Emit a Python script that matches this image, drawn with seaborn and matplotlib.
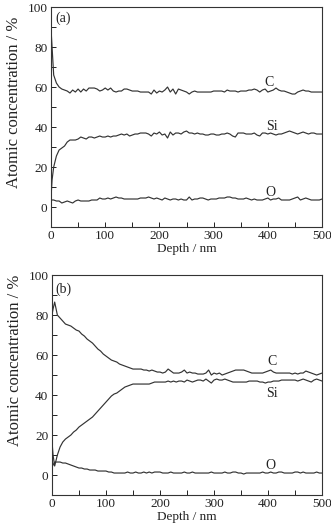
import numpy as np
import pandas as pd
import matplotlib
matplotlib.use("Agg")
import matplotlib.pyplot as plt
from matplotlib.ticker import MultipleLocator
import seaborn as sns

# Depth grid (nm)
depth = np.concatenate([[0, 2], np.arange(5, 501, 5)])

# Panel (a)
c_a = [89.5, 80,
       66, 62, 60, 59, 58.5, 58, 57, 58.5, 57.5, 59,
       57.5, 59, 58, 59.5, 59.5, 59.5, 59, 58, 58.5, 59.5,
       58.5, 59.5, 58, 57.5, 58, 58, 59, 59, 58.5, 58,
       58, 58, 57.5, 57.5, 57.5, 57.5, 56.5, 58.5, 57, 58,
       57.5, 58.5, 60, 57.5, 59, 56.5, 59, 58.5, 58, 57.5,
       56.5, 57.5, 58, 57.5, 57.5, 57.5, 57.5, 57.5, 57.5, 58,
       58, 58, 58, 57.5, 58.5, 58, 58, 58, 57.5, 58,
       58, 58, 58.5, 58.5, 59, 58.5, 57.5, 58.5, 59, 57.5,
       58, 58.5, 59.5, 58.5, 58, 58, 57.5, 57, 56.5, 56.5,
       57.5, 58, 58.5, 58, 58, 57.5, 57.5, 57.5, 57.5, 57.5]
si_a = [4.3, 13.5,
        20, 25.5, 28.5, 29.5, 30.5, 32.5, 33.5, 33.5, 33.5, 34,
        35, 34.5, 34, 35, 35, 34.5, 35, 35.5, 35, 35,
        35.5, 35, 35.5, 35.5, 36, 36.5, 36, 36.5, 35.5, 36,
        36.5, 36.5, 37, 37, 37, 36.5, 35.5, 37, 36.5, 37.5,
        36, 36.5, 34.5, 37.5, 36, 37, 37, 36.5, 37.5, 38,
        37, 37, 36.5, 37, 36.5, 36.5, 36, 36, 36.5, 36.5,
        36, 36, 36.5, 36.5, 37, 36.5, 35.5, 35, 37, 37,
        37, 36.5, 36.5, 36.5, 37, 36, 35.5, 37, 37, 36.5,
        37, 36.5, 36, 36.5, 36.5, 37, 37.5, 38, 37.5, 37,
        36.5, 37, 37.5, 37, 36.5, 37, 37, 36.5, 36.5, 36.5]
o_a = [4, 3.5,
       3.5, 3, 3, 2, 2.5, 3, 2.5, 2, 3, 3.5,
       3, 3, 3, 3, 3.5, 3.5, 3.5, 4.5, 4, 4,
       4.5, 4, 4.5, 5, 4.5, 4.5, 4, 4, 4, 4,
       4, 4, 4.5, 4.5, 4.5, 5, 4.5, 4, 4.5, 4,
       3.5, 4.5, 4, 3.5, 4, 4, 3.5, 4, 3.5, 3.5,
       5, 3.5, 4, 4, 4.5, 4.5, 4, 3.5, 4, 4,
       4, 4.5, 4.5, 4.5, 5, 5, 4.5, 4.5, 4, 4,
       4, 4.5, 4, 3.5, 4, 3.5, 3.5, 3.5, 4, 4.5,
       3.5, 4, 4, 4.5, 3.5, 3.5, 3.5, 3.5, 4, 4.5,
       5, 3.5, 4, 4.5, 4, 3.5, 3.5, 3.5, 3.5, 4]

# Panel (b)
c_b = [80, 83,
       86.5, 80, 78.5, 77, 75.5, 75, 74.5, 73.5, 72.5, 72,
       70.5, 69.5, 68, 67, 66, 64.5, 63, 62, 60.5, 59.5,
       58.5, 57.5, 57, 56.5, 55.5, 55, 54.5, 54, 53.5, 53,
       53, 53, 53, 52.5, 52.5, 52, 52.5, 52, 51.5, 51.5,
       51, 51.5, 53, 52, 51, 51, 51, 51.5, 52.5, 51,
       51.5, 51, 51, 50.5, 50.5, 50.5, 51, 52.5, 50, 51,
       50.5, 51, 50, 50.5, 51, 51.5, 52, 52.5, 52.5, 52.5,
       52.5, 52, 51.5, 51, 51, 51, 51, 51, 51.5, 52,
       52.5, 51.5, 51, 51, 51, 51, 51, 51, 50.5, 51,
       50.5, 51, 51, 52, 51.5, 51, 50.5, 50, 50.5, 51]
si_b = [17, 10,
        4.5, 10, 14, 16.5, 18, 19, 20, 21.5, 22.5, 24,
        25, 26, 27, 28, 29, 30.5, 32, 33.5, 35, 36.5,
        38, 39.5, 40.5, 41, 42, 43, 44, 44.5, 45, 45.5,
        45.5, 45.5, 45.5, 45.5, 45.5, 45.5, 46, 46.5, 46.5, 46.5,
        46.5, 46.5, 47, 46.5, 47, 46.5, 47, 47, 46.5, 47.5,
        47, 46.5, 47, 47.5, 47.5, 47, 48, 47, 46, 47.5,
        48, 47.5, 47.5, 48, 47.5, 47, 46.5, 46.5, 46.5, 46.5,
        46.5, 46.5, 47, 47, 47, 47, 46.5, 46.5, 46, 46.5,
        46.5, 47, 47, 47, 47.5, 47.5, 47.5, 47.5, 47.5, 47.5,
        47, 47.5, 48, 47.5, 47, 46.5, 47.5, 48, 47.5, 47]
o_b = [4, 5,
       6.5, 6.5, 6.5, 6, 6, 5.5, 5, 4.5, 4, 3.5,
       3.5, 3, 3, 2.5, 2.5, 2.5, 2, 2, 2, 2,
       1.5, 1.5, 1, 1, 1, 1, 1, 1.5, 1, 1,
       1.5, 1, 1, 1.5, 1, 1.5, 1, 1.5, 1.5, 1.5,
       1, 1, 1, 1.5, 1, 1, 1, 1, 1.5, 1,
       1, 1.5, 1, 1, 1, 1, 1, 1, 1.5, 1,
       1, 1, 1, 1.5, 1, 1, 1.5, 1.5, 1, 1,
       0.5, 1, 1, 1, 1, 1, 1, 1.5, 1, 1,
       1.5, 1, 1, 1.5, 1.5, 1, 1, 1, 1, 1.5,
       1.5, 1, 1.5, 1, 1, 1, 1, 1.5, 1, 1]

elements = ["C", "Si", "O"]
panels = {"(a)": [c_a, si_a, o_a], "(b)": [c_b, si_b, o_b]}
label_pos = {
    "(a)": {"C": (402, 62.5), "Si": (408, 40.5), "O": (404, 7.5)},
    "(b)": {"C": (407, 56.6), "Si": (408, 40.8), "O": (404, 5.0)},
}
panel_tag_pos = {"(a)": (22, 94.5), "(b)": (21, 93)}
ylabel_y = {"(a)": 0.566, "(b)": 0.614}

sns.set_theme(style="ticks")
plt.rcParams["font.family"] = ["Liberation Serif", "DejaVu Serif"]
plt.rcParams["mathtext.fontset"] = "stix"

fig = plt.figure(figsize=(3.31, 5.30), dpi=100)
axes = [fig.add_axes([0.154, 0.5717, 0.819, 0.415]),
        fig.add_axes([0.157, 0.066, 0.816, 0.415])]

for ax, (tag, series) in zip(axes, panels.items()):
    df = pd.DataFrame({"depth": np.tile(depth, 3),
                       "conc": np.concatenate(series),
                       "element": np.repeat(elements, len(depth))})
    sns.lineplot(data=df, x="depth", y="conc", units="element",
                 estimator=None, color="#333333", lw=0.85, ax=ax,
                 legend=False)
    for el in elements:
        x, y = label_pos[tag][el]
        ax.text(x, y, el, ha="center", va="center", fontsize=10,
                color="#222222")
    tx, ty = panel_tag_pos[tag]
    ax.text(tx, ty, tag, ha="center", va="center", fontsize=10,
            color="#222222")
    ax.set_xlim(0, 500)
    ax.set_ylim(-10, 100)
    ax.xaxis.set_major_locator(MultipleLocator(100))
    ax.xaxis.set_minor_locator(MultipleLocator(50))
    ax.yaxis.set_major_locator(MultipleLocator(20))
    ax.yaxis.set_minor_locator(MultipleLocator(10))
    ax.tick_params(which="both", direction="in", top=False, right=False,
                   labelsize=9.5, colors="#222222", width=0.7, pad=2.5,
                   length=3.5)
    for s in ax.spines.values():
        s.set_visible(True)
        s.set_linewidth(0.8)
        s.set_color("#333333")
    ax.set_xlabel("Depth / nm", fontsize=9.5, labelpad=0.5, color="#222222")
    ax.set_ylabel("Atomic concentration / %", fontsize=12, color="#222222")
    ax.yaxis.set_label_coords(-0.107, ylabel_y[tag])

fig.savefig("out.png", dpi=100, facecolor="white")
